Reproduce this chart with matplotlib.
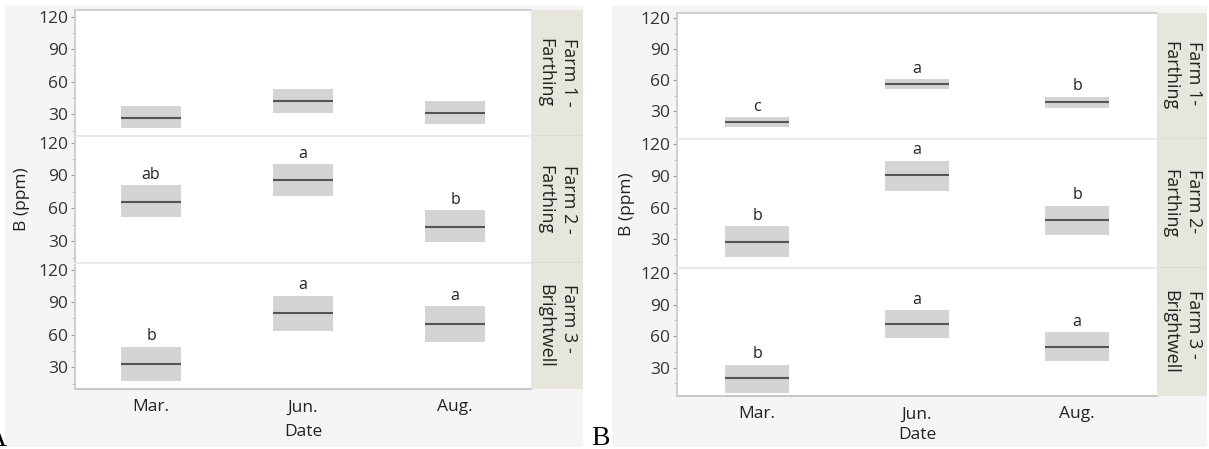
import matplotlib
matplotlib.use("Agg")
import matplotlib.pyplot as plt
from matplotlib.patches import Rectangle

plt.rcParams["font.family"] = ["Open Sans", "DejaVu Sans"]

W, H = 1209, 449

months = ["Mar.", "Jun.", "Aug."]
farms_a = ["Farm 1 -\nFarthing", "Farm 2 -\nFarthing", "Farm 3 -\nBrightwell"]
farms_b = ["Farm 1-\nFarthing", "Farm 2-\nFarthing", "Farm 3 -\nBrightwell"]

# panel A: mean and interval per farm (rows) and month (columns)
a_mean = [[27, 42, 31], [66, 86, 43], [33, 80, 70]]
a_low = [[17, 31, 21], [52, 71, 29], [17, 63, 53]]
a_high = [[38, 53, 42], [81, 100, 58], [49, 96, 86]]
a_letters = [["", "", ""], ["ab", "a", "b"], ["b", "a", "a"]]

# panel B
b_mean = [[19, 56, 39], [28, 91, 48], [20, 72, 50]]
b_low = [[14.5, 51, 33], [13.5, 75.5, 34], [6, 58, 36]]
b_high = [[24, 61, 44], [42.5, 104.5, 62], [33, 85, 64]]
b_letters = [["c", "a", "b"], ["b", "a", "b"], ["b", "a", "a"]]

BG = "#f5f5f5"
STRIP = "#e6e6dd"
BOX = "#d4d4d4"
MEAN = "#555555"
BORDER = "#c8c8c8"
SEP = "#e8e8e8"


def fx(x):
    return x / W


def fy(y):
    return 1 - y / H


def draw_panel(fig, bg, left, right, rows, strip_r, ylim, farms,
               means, lows, highs, letters, tick_y, date_y, ylab_x):
    fig.add_artist(Rectangle((fx(bg[0]), fy(bg[3])), fx(bg[2] - bg[0]), (bg[3] - bg[1]) / H,
                             transform=fig.transFigure, facecolor=BG, edgecolor="none", zorder=0))
    n = len(rows)
    for i, (top, bot) in enumerate(rows):
        ax = fig.add_axes([fx(left), fy(bot), fx(right - left), (bot - top) / H])
        ax.set_facecolor("white")
        xs = range(len(months))
        ax.bar(xs, [h - l for h, l in zip(highs[i], lows[i])], bottom=lows[i],
               width=0.4, color=BOX, edgecolor="none")
        ax.hlines(means[i], [x - 0.2 for x in xs], [x + 0.2 for x in xs], color=MEAN, lw=1.5)
        for x, h, lab in zip(xs, highs[i], letters[i]):
            if lab:
                ax.annotate(lab, (x, h), xytext=(0, 4.5), textcoords="offset points",
                            ha="center", va="baseline", fontsize=11.5, color="#222222")
        ax.set_xlim(-0.5, len(months) - 0.5)
        ax.set_ylim(*ylim)
        ax.set_yticks([30, 60, 90, 120])
        ax.set_yticks([15, 45, 75, 105], minor=True)
        ax.tick_params(axis="y", which="major", length=3, width=0.8, color="#999999",
                       labelsize=12.5, labelcolor="#333333", pad=2)
        ax.tick_params(axis="y", which="minor", length=2, width=0.6, color="#bbbbbb")
        ax.tick_params(axis="x", length=0)
        ax.spines["right"].set_visible(False)
        ax.spines["left"].set_color(BORDER)
        ax.spines["left"].set_linewidth(1.2)
        ax.spines["top"].set_color(BORDER if i == 0 else SEP)
        ax.spines["top"].set_linewidth(1.2)
        ax.spines["bottom"].set_color(BORDER if i == n - 1 else SEP)
        ax.spines["bottom"].set_linewidth(1.5)
        if i == n - 1:
            ax.set_xticks(list(xs))
            ax.set_xticklabels(months, fontsize=12.5, color="#222222")
            ax.tick_params(axis="x", pad=(tick_y - bot) * 0.72 - 4)
        else:
            ax.set_xticks([])

        sax = fig.add_axes([fx(right), fy(bot), fx(strip_r - right), (bot - top) / H])
        sax.set_facecolor(STRIP)
        sax.set_xticks([])
        sax.set_yticks([])
        for s in sax.spines.values():
            s.set_visible(False)
        if i < n - 1:
            sax.axhline(0, color="#dcdcd4", lw=1.5)
        sax.text(0.5, 0.5, farms[i], rotation=270, ha="center", va="center",
                 multialignment="left", fontsize=13, color="#222222",
                 transform=sax.transAxes, linespacing=1.45)

    fig.text(fx((left + right) / 2), fy(date_y), "Date", ha="center", va="center",
             fontsize=12.5, color="#222222")
    fig.text(fx(ylab_x), fy((rows[0][0] + rows[-1][1]) / 2), "B (ppm)", rotation=90,
             ha="center", va="center", fontsize=12.5, color="#222222")


fig = plt.figure(figsize=(W / 100, H / 100), dpi=100)
fig.patch.set_facecolor("white")

draw_panel(fig, (5, 6, 583, 447), 75, 531, [(10, 136), (136, 263), (263, 389)], 583,
           (10, 126), farms_a, a_mean, a_low, a_high, a_letters, 405, 432, 22)
draw_panel(fig, (612, 6, 1207, 447), 677, 1157, [(13, 139), (139, 268), (268, 396)], 1207,
           (3, 125), farms_b, b_mean, b_low, b_high, b_letters, 412, 435, 627)

# panel letters: "A" sits mostly off the left edge, as in the source figure
fig.text(fx(7), fy(446), "A", ha="right", va="baseline", fontsize=20,
         family="Liberation Serif", color="black")
fig.text(fx(591), fy(445), "B", ha="left", va="baseline", fontsize=20,
         family="Liberation Serif", color="black")

fig.savefig("out.png", dpi=100, facecolor=fig.get_facecolor())
